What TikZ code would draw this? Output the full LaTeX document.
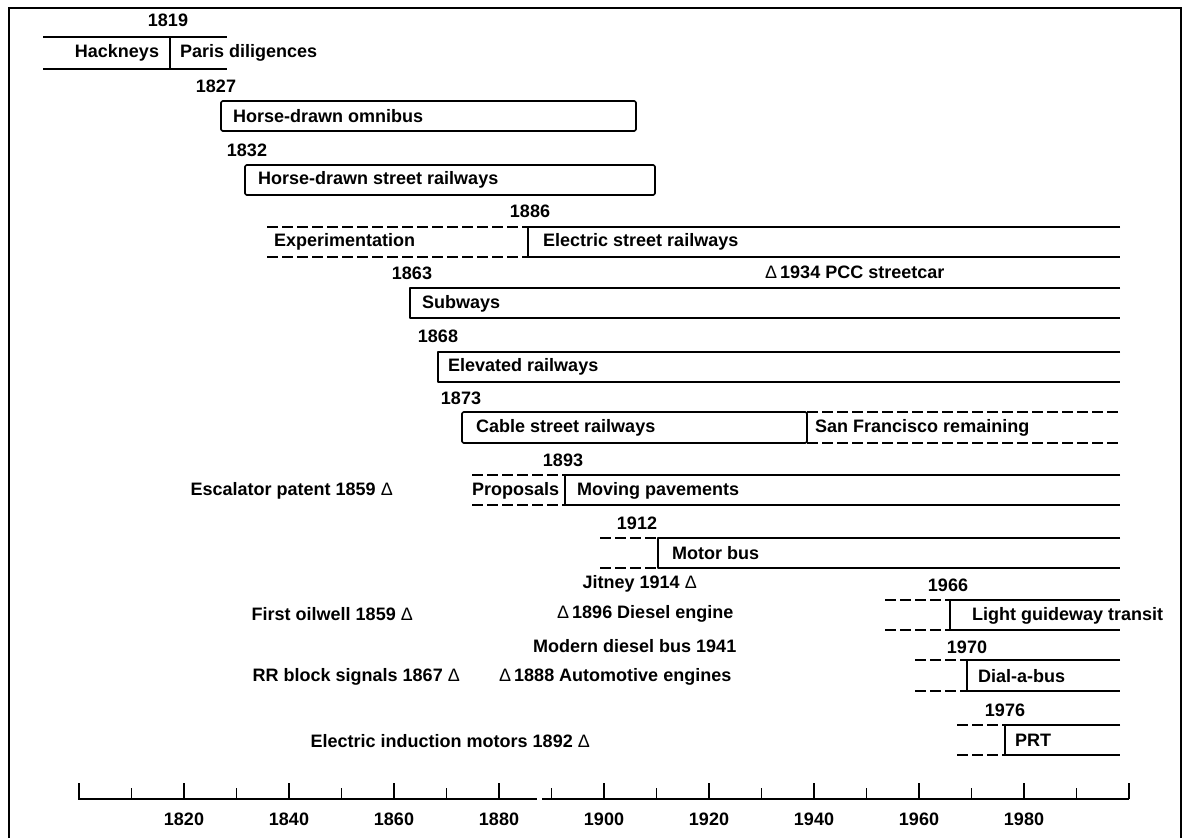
\documentclass[tikz,border=0pt]{standalone}
\usepackage{fontspec}
\setmainfont{Liberation Sans}
\newcommand{\tri}{{\mdseries Δ}}

\begin{document}
\begin{tikzpicture}[x=1pt,y=-1pt,
    bar/.style={line width=1.6pt,line join=round},
    dashbar/.style={bar,dash pattern=on 11pt off 4pt},
    lbl/.style={font=\bfseries\fontsize{18}{21}\selectfont,inner sep=0pt},
    inlbl/.style={lbl,anchor=west}]
        \useasboundingbox (0,0) rectangle (1186,838);
        % frame
        \draw[line width=1.2pt] (9,838) -- (9,8) -- (1181,8) -- (1181,838);
        % axis
        \draw[line width=1.3pt] (78,799) -- (537,799) (542,799) -- (1129,799);
        \foreach \y in {1800,1810,...,2000} {
            \pgfmathsetmacro\xx{79+(\y-1800)*5.25}
            \pgfmathsetmacro\hh{mod(\y,20)==0 ? 16 : 11}
            \draw[line width=1.1pt] (\xx,799) -- ++(0,-\hh);
        }
        \foreach \y in {1820,1840,...,1980} {
            \node[lbl] (t\y) at ({79+(\y-1800)*5.25},819) {\y};
        }
        % hackneys
        \draw[bar] (43,37) -- (227,37) (43,69) -- (227,69) (170,37) -- (170,69);
        \node[lbl] (y1819) at (168,20) {1819};
        \node[lbl] (hack) at (117,53) {Hackneys};
        \node[inlbl] (paris) at (180,53) {Paris diligences};
        % closed boxes
        \draw[bar,rounded corners=1.5pt] (221,101) rectangle (636,131);
        \draw[bar,rounded corners=1.5pt] (245,165) rectangle (655,195);
        \draw[bar,rounded corners=1.5pt] (462,412) rectangle (807,443);
        % open bars
        \foreach \l/\t/\b in {528/227/257,410/288/318,438/352/382,565/475/505,
                              658/538/568,950/600/630,967/660/691,1005/725/755} {
            \draw[bar] (1120,\t) -- (\l,\t) -- (\l,\b) -- (1120,\b);
        }
        % dashed lead-ins
        \foreach \a/\l/\t/\b in {267/528/227/257,472/565/475/505,600/658/538/568,
                                 885/950/600/630,915/967/660/691,957/1005/725/755,
                                 807/1118/412/443} {
            \draw[dashbar] (\a,\t) -- (\l,\t) (\a,\b) -- (\l,\b);
        }
        % years
        \node[lbl] (y1827) at (216,86) {1827};
        \node[lbl] (y1832) at (247,150) {1832};
        \node[lbl] (y1886) at (530,211) {1886};
        \node[lbl] (y1863) at (412,273) {1863};
        \node[lbl] (y1868) at (438,336) {1868};
        \node[lbl] (y1873) at (461,398) {1873};
        \node[lbl] (y1893) at (563,460) {1893};
        \node[lbl] (y1912) at (637,523) {1912};
        \node[lbl] (y1966) at (948,585) {1966};
        \node[lbl] (y1970) at (967,647) {1970};
        \node[lbl] (y1976) at (1005,710) {1976};
        % bar texts
        \node[inlbl] (omni) at (233,116) {Horse-drawn omnibus};
        \node[inlbl] (hsr) at (258,180) {Horse-drawn street railways};
        \node[inlbl] (exper) at (274,242) {Experimentation};
        \node[inlbl] (esr) at (543,242) {Electric street railways};
        \node[inlbl] (subw) at (422,304) {Subways};
        \node[inlbl] (elev) at (448,367) {Elevated railways};
        \node[inlbl] (cable) at (476,428) {Cable street railways};
        \node[inlbl] (sanfr) at (815,428) {San Francisco remaining};
        \node[inlbl] (prop) at (472,491) {Proposals};
        \node[inlbl] (movp) at (577,491) {Moving pavements};
        \node[inlbl] (mbus) at (672,553) {Motor bus};
        \node[inlbl] (lgt) at (972,616) {Light guideway transit};
        \node[inlbl] (dab) at (978,676) {Dial-a-bus};
        \node[inlbl] (prt) at (1015,740) {PRT};
        % events
        \node[inlbl] (pcc) at (765,272) {\tri\,1934 PCC streetcar};
        \node[lbl,anchor=east] (escal) at (393,491) {Escalator patent 1859 \tri};
        \node[lbl,anchor=east] (jitney) at (697,584) {Jitney 1914 \tri};
        \node[lbl,anchor=east] (oilw) at (413,614) {First oilwell 1859 \tri};
        \node[inlbl] (diesel) at (557,614) {\tri\,1896 Diesel engine};
        \node[inlbl] (mdb) at (533,646) {Modern diesel bus 1941};
        \node[lbl,anchor=east] (rrbs) at (460,677) {RR block signals 1867 \tri};
        \node[inlbl] (auto) at (499,677) {\tri\,1888 Automotive engines};
        \node[lbl,anchor=east] (eim) at (590,741) {Electric induction motors 1892 \tri};
\end{tikzpicture}
\end{document}
